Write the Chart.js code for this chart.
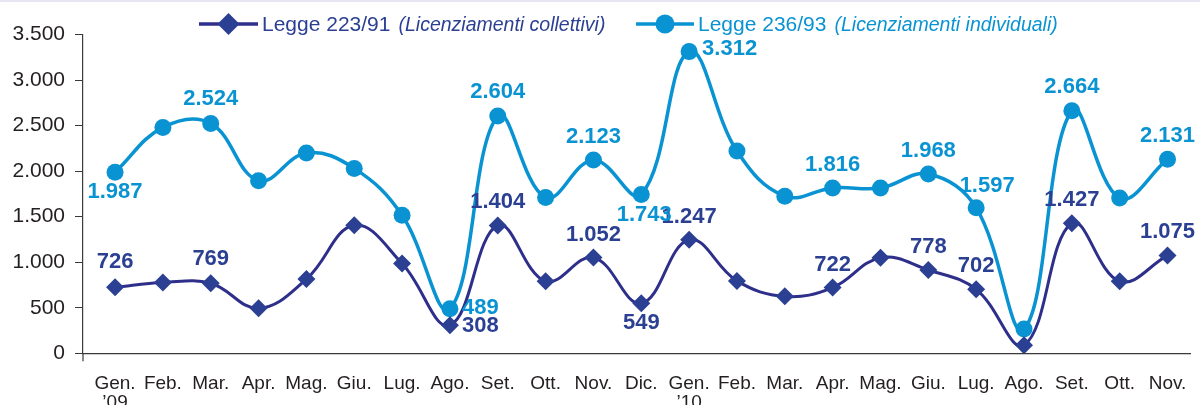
<!DOCTYPE html>
<html>
<head>
<meta charset="utf-8">
<script src="https://cdn.jsdelivr.net/npm/chart.js@4/dist/chart.umd.min.js"></script>
<style>
  body { margin: 0; background: #fff; }
  #wrap { position: relative; width: 1200px; height: 405px; }
</style>
</head>
<body>
<div id="wrap"><canvas id="chart"></canvas></div>
<script>
// categories
const categories = [
  ['Gen.', '’09'], 'Feb.', 'Mar.', 'Apr.', 'Mag.', 'Giu.', 'Lug.', 'Ago.', 'Set.', 'Ott.', 'Nov.', 'Dic.',
  ['Gen.', '’10'], 'Feb.', 'Mar.', 'Apr.', 'Mag.', 'Giu.', 'Lug.', 'Ago.', 'Set.', 'Ott.', 'Nov.'
];

// Legge 223/91 (collettivi)
const collettivi = [726, 778, 769, 495, 815, 1405, 985, 308, 1404, 790, 1052, 549, 1247, 795, 625, 722, 1050, 915, 702, 88, 1427, 790, 1075];
// Legge 236/93 (individuali)
const individuali = [1987, 2480, 2524, 1895, 2200, 2030, 1515, 489, 2604, 1710, 2123, 1743, 3312, 2220, 1725, 1816, 1815, 1968, 1597, 267, 2664, 1705, 2131];

// value labels printed on the chart (null = none)
const shown223 = [726, null, 769, null, null, null, null, 308, 1404, null, 1052, 549, 1247, null, null, 722, null, 778, 702, null, 1427, null, 1075];
const shown236 = [1987, null, 2524, null, null, null, null, 489, 2604, null, 2123, 1743, 3312, null, null, 1816, null, 1968, 1597, null, 2664, null, 2131];

const yTicks = [0, 500, 1000, 1500, 2000, 2500, 3000, 3500];

const legendNames = ['Legge 223/91', 'Legge 236/93'];
const legendNotes = ['(Licenziamenti collettivi)', '(Licenziamenti individuali)'];

const DARK = '#2B3F93';
const DARK_LINE = '#2E2F8A';
const LIGHT = '#0A93D2';
const AXIS = '#3a3a3a';

// label placement: [dx, dy, align]
const A = [0, -23, 'center'], B = [0, 20, 'center'];
const place223 = [[0, -25, 'center'], null, [0, -24, 'center'], null, null, null, null, [12, 1, 'left'], A, null, A, B,
  A, null, null, A, null, A, A, null, A, null, A];
const place236 = [[0, 20, 'center'], null, [0, -24, 'center'], null, null, null, null, [12, -1, 'left'], [0, -24, 'center'], null, A, [3, 20, 'center'],
  [13, -3, 'left'], null, null, A, null, A, [11, -22, 'center'], null, [0, -24, 'center'], null, A];

function fmt(v) {
  return String(v).replace(/\B(?=(\d{3})+(?!\d))/g, '.');
}

const labelPlugin = {
  id: 'valueLabels',
  afterDatasetsDraw(chart) {
    const ctx = chart.ctx;
    const sets = [[shown223, place223, DARK], [shown236, place236, LIGHT]];
    sets.forEach(([shown, place, color], di) => {
      const meta = chart.getDatasetMeta(di);
      shown.forEach((v, i) => {
        if (v == null) return;
        const p = meta.data[i];
        const [dx, dy, align] = place[i];
        ctx.save();
        ctx.font = 'bold 22px "Liberation Sans", Arial, sans-serif';
        ctx.fillStyle = color;
        ctx.textAlign = align;
        ctx.textBaseline = 'middle';
        ctx.fillText(fmt(v), p.x + dx, p.y + dy);
        ctx.restore();
      });
    });
  }
};

const legendPlugin = {
  id: 'customLegend',
  afterDraw(chart) {
    const ctx = chart.ctx;
    const area = chart.chartArea;
    ctx.save();
    ctx.fillStyle = '#E6E6F2';
    ctx.fillRect(0, 0, chart.width, 2);
    // y axis runs a little below the x axis
    ctx.strokeStyle = AXIS;
    ctx.lineWidth = 1.2;
    ctx.beginPath();
    ctx.moveTo(area.left, area.bottom);
    ctx.lineTo(area.left, area.bottom + 8);
    ctx.stroke();

    const items = [
      { x0: 199, x1: 258, tx: 262, color: DARK, line: DARK_LINE, style: 'rectRot', r: 11 },
      { x0: 636, x1: 694, tx: 698, color: LIGHT, line: LIGHT, style: 'circle', r: 9.5 }
    ];
    items.forEach((it, i) => {
      const y = 24;
      ctx.strokeStyle = it.line;
      ctx.lineWidth = 3.5;
      ctx.beginPath();
      ctx.moveTo(it.x0, y);
      ctx.lineTo(it.x1, y);
      ctx.stroke();
      ctx.fillStyle = it.color;
      Chart.helpers.drawPoint(ctx, { pointStyle: it.style, radius: it.r, borderWidth: 0 }, (it.x0 + it.x1) / 2, y);
      ctx.textBaseline = 'alphabetic';
      ctx.textAlign = 'left';
      ctx.font = '21px "Liberation Sans", Arial, sans-serif';
      ctx.fillText(legendNames[i], it.tx, 30.5);
      const w = ctx.measureText(legendNames[i]).width;
      ctx.font = 'italic 19.5px "Liberation Sans", Arial, sans-serif';
      ctx.fillText(legendNotes[i], it.tx + w + 8, 30.5);
    });
    ctx.restore();
  }
};

new Chart(document.getElementById('chart'), {
  type: 'line',
  data: {
    datasets: [
      {
        label: legendNames[0],
        data: collettivi.map((v, i) => ({ x: i, y: v })),
        borderColor: DARK_LINE,
        backgroundColor: DARK,
        borderWidth: 3,
        pointStyle: 'rectRot',
        pointRadius: 9,
        pointBorderWidth: 0,
        pointBackgroundColor: DARK,
        tension: 0.4
      },
      {
        label: legendNames[1],
        data: individuali.map((v, i) => ({ x: i, y: v })),
        borderColor: LIGHT,
        backgroundColor: LIGHT,
        borderWidth: 3.5,
        pointStyle: 'circle',
        pointRadius: 8.5,
        pointBorderWidth: 0,
        pointBackgroundColor: LIGHT,
        tension: 0.4
      }
    ]
  },
  options: {
    responsive: true,
    maintainAspectRatio: false,
    animation: false,
    layout: { padding: { top: 34.5, right: 10, left: 0, bottom: 0 } },
    plugins: { legend: { display: false }, tooltip: { enabled: false } },
    scales: {
      x: {
        type: 'linear',
        min: -0.67,
        max: 22.47,
        afterFit(scale) { scale.height = 51.7; },
        grid: { display: false },
        border: { display: true, color: AXIS, width: 1.2 },
        ticks: {
          stepSize: 1,
          autoSkip: false,
          includeBounds: false,
          maxRotation: 0,
          padding: 12,
          color: '#231F20',
          font: { family: '"Liberation Sans", Arial, sans-serif', size: 19, lineHeight: 1.05 },
          callback: (v) => Number.isInteger(v) ? categories[v] : ''
        }
      },
      y: {
        min: yTicks[0],
        max: yTicks[yTicks.length - 1],
        afterFit(scale) { scale.width = 83; },
        grid: { display: true, drawOnChartArea: false, drawTicks: true, tickLength: 8, color: AXIS },
        border: { display: true, color: AXIS, width: 1.2 },
        afterBuildTicks(scale) { scale.ticks = yTicks.map(v => ({ value: v })); },
        ticks: {
          padding: 10,
          color: '#231F20',
          font: { family: '"Liberation Sans", Arial, sans-serif', size: 21 },
          callback: (v) => fmt(v)
        }
      }
    }
  },
  plugins: [labelPlugin, legendPlugin]
});
</script>
</body>
</html>
